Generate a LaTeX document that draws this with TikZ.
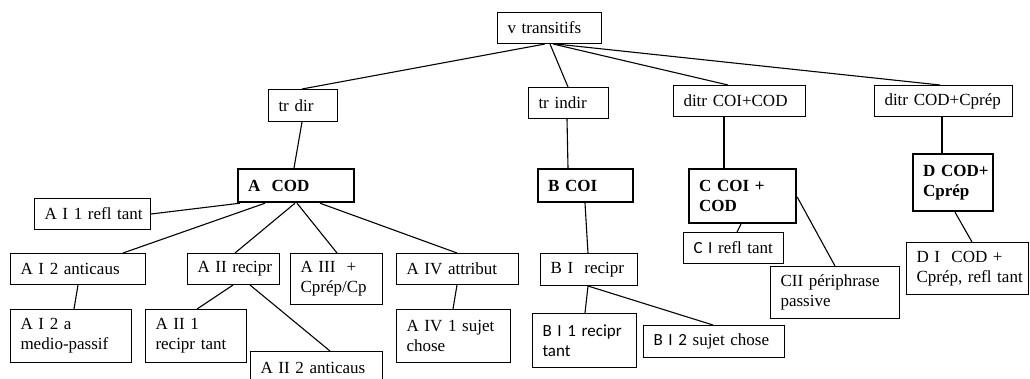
\documentclass[tikz,border=0pt]{standalone}
\usepackage{fontspec}
\setmainfont{Liberation Serif}
\newfontfamily\calib{Carlito}
\usetikzlibrary{calc}

% labels use ~ between words and no hyphenation, so a label never wraps inside its box
\tikzset{
  box/.style={draw, line width=1pt, anchor=north west, inner xsep=10pt, inner ysep=0pt,
    align=left, font=\fontsize{17}{20}\selectfont,
    execute at begin node={\hyphenpenalty=10000\exhyphenpenalty=10000\relax}},
  strong/.style={box, line width=2.2pt, font=\bfseries\fontsize{17}{20}\selectfont},
  link/.style={line width=1.1pt},
}

\begin{document}
\begin{tikzpicture}[x=1pt, y=-1pt]
\useasboundingbox (0,0) rectangle (1030,378);
\fill[white] (0,0) rectangle (1030,378);

% first level
\node[box, text width=84pt, minimum height=31pt] (vt) at (497,12) {v~transitifs};
\node[box, text width=49pt, minimum height=32pt] (trdir) at (268,89) {tr~dir};
\node[box, text width=60pt, minimum height=31pt] (trindir) at (528,87) {tr~indir};
\node[box, text width=112pt, minimum height=31pt] (ditra) at (673,85) {ditr~COI+COD};
\node[box, text width=118pt, minimum height=31pt] (ditrb) at (874,85) {ditr~COD+Cprép};

% classes
\node[strong, text width=96pt, minimum height=33pt] (acod) at (237,168) {A~~COD};
\node[strong, text width=75pt, minimum height=33pt] (bcoi) at (537,168) {B~COI};
\node[strong, text width=87pt, minimum height=54pt] (ccoi) at (688,168) {C~COI~+\\COD};
\node[strong, text width=60pt, minimum height=57pt] (dcod) at (912,153) {D~COD+\\Cprép};

% subclasses of A
\node[box, text width=96pt, minimum height=31pt] (ai1) at (34,198) {A~I~1~refl~tant};
\node[box, text width=115pt, minimum height=31pt] (ai2) at (10,253) {A~I~2~anticaus};
\node[box, text width=72pt, minimum height=31pt] (aii) at (187,253) {A~II~recipr};
\node[box, text width=72pt, minimum height=51pt] (aiii) at (290,253) {A~III~~+\\Cprép/Cp};
\node[box, text width=102pt, minimum height=31pt] (aiv) at (396,253) {A~IV~attribut};
\node[box, text width=101pt, minimum height=53pt] (ai2a) at (10,309) {A~I~2~a\\medio-passif};
\node[box, text width=81pt, minimum height=53pt] (aii1) at (145,309) {A~II~1\\recipr~tant};
\node[box, text width=112pt, minimum height=33pt] (aii2) at (250,351) {A~II~2~anticaus};
\node[box, text width=94pt, minimum height=53pt] (aiv1) at (396,309) {A~IV~1~sujet\\chose};

% subclasses of B
\node[box, text width=77pt, minimum height=32pt] (bi) at (540,253) {B~I~~recipr};
\node[box, text width=84pt, minimum height=54pt] (bi1) at (532,313) {\calib B~I~1~recipr\\\calib tant};
\node[box, text width=121pt, minimum height=32pt] (bi2) at (643,325) {{\calib B~I~2}~sujet~chose};

% subclasses of C
\node[box, text width=80pt, minimum height=31pt] (ci) at (683,232) {{\calib C~I}~refl~tant};
\node[box, text width=109pt, minimum height=52pt] (cii) at (770,266) {CII~périphrase\\passive};

% subclass of D
\node[box, text width=102pt, minimum height=52pt] (di) at (906,242) {D~I~~COD~+\\Cprép,~refl~tant};

% root to first level
\draw[link] ($(vt.south west)+(48,0)$) -- ($(trdir.north west)+(34,0)$);
\draw[link] ($(vt.south west)+(53,0)$) -- ($(trindir.north west)+(40,0)$);
\draw[link] ($(vt.south west)+(56,0)$) -- ($(ditra.north west)+(55,0)$);
\draw[link] ($(vt.south west)+(59,0)$) -- ($(ditrb.north west)+(66,0)$);

% first level to classes
\draw[link] ($(trdir.south west)+(34,0)$) -- ($(acod.north west)+(57,0)$);
\draw[link] ($(trindir.south west)+(39,0)$) -- ($(bcoi.north west)+(31,0)$);
\draw[link] ($(ditra.south west)+(51,0)$) -- ($(ccoi.north west)+(36,0)$);
\draw[link] ($(ditrb.south west)+(68,0)$) -- ($(dcod.north west)+(30,0)$);

% A branch
\draw[link] ($(acod.south west)+(3,0)$) -- (ai1.east);
\draw[link] ($(acod.south west)+(28,0)$) -- ($(ai2.north west)+(113,0)$);
\draw[link] ($(acod.south west)+(58,0)$) -- ($(aii.north west)+(48,0)$);
\draw[link] ($(acod.south west)+(60,0)$) -- ($(aiii.north west)+(47,0)$);
\draw[link] ($(acod.south west)+(83,0)$) -- ($(aiv.north west)+(61,0)$);
\draw[link] ($(ai2.south west)+(68,0)$) -- ($(ai2a.north west)+(64,0)$);
\draw[link] ($(aii.south west)+(46,0)$) -- ($(aii1.north west)+(52,0)$);
\draw[link] ($(aii.south west)+(63,0)$) -- ($(aii2.north west)+(80,0)$);
\draw[link] ($(aiv.south west)+(61,0)$) -- ($(aiv1.north west)+(57,0)$);

% B branch
\draw[link] ($(bcoi.south west)+(48,0)$) -- ($(bi.north west)+(48,0)$);
\draw[link] ($(bi.south west)+(48,0)$) -- ($(bi1.north west)+(53,0)$);
\draw[link] ($(bi.south west)+(48,0)$) -- ($(bi2.north west)+(70,0)$);

% C branch
\draw[link] ($(ccoi.south west)+(53,0)$) -- ($(ci.north west)+(54,0)$);
\draw[link] ($(ccoi.north east)+(0,29)$) -- ($(cii.north west)+(65,0)$);

% D branch
\draw[link] ($(dcod.south west)+(43,0)$) -- ($(di.north west)+(66,0)$);
\end{tikzpicture}
\end{document}
